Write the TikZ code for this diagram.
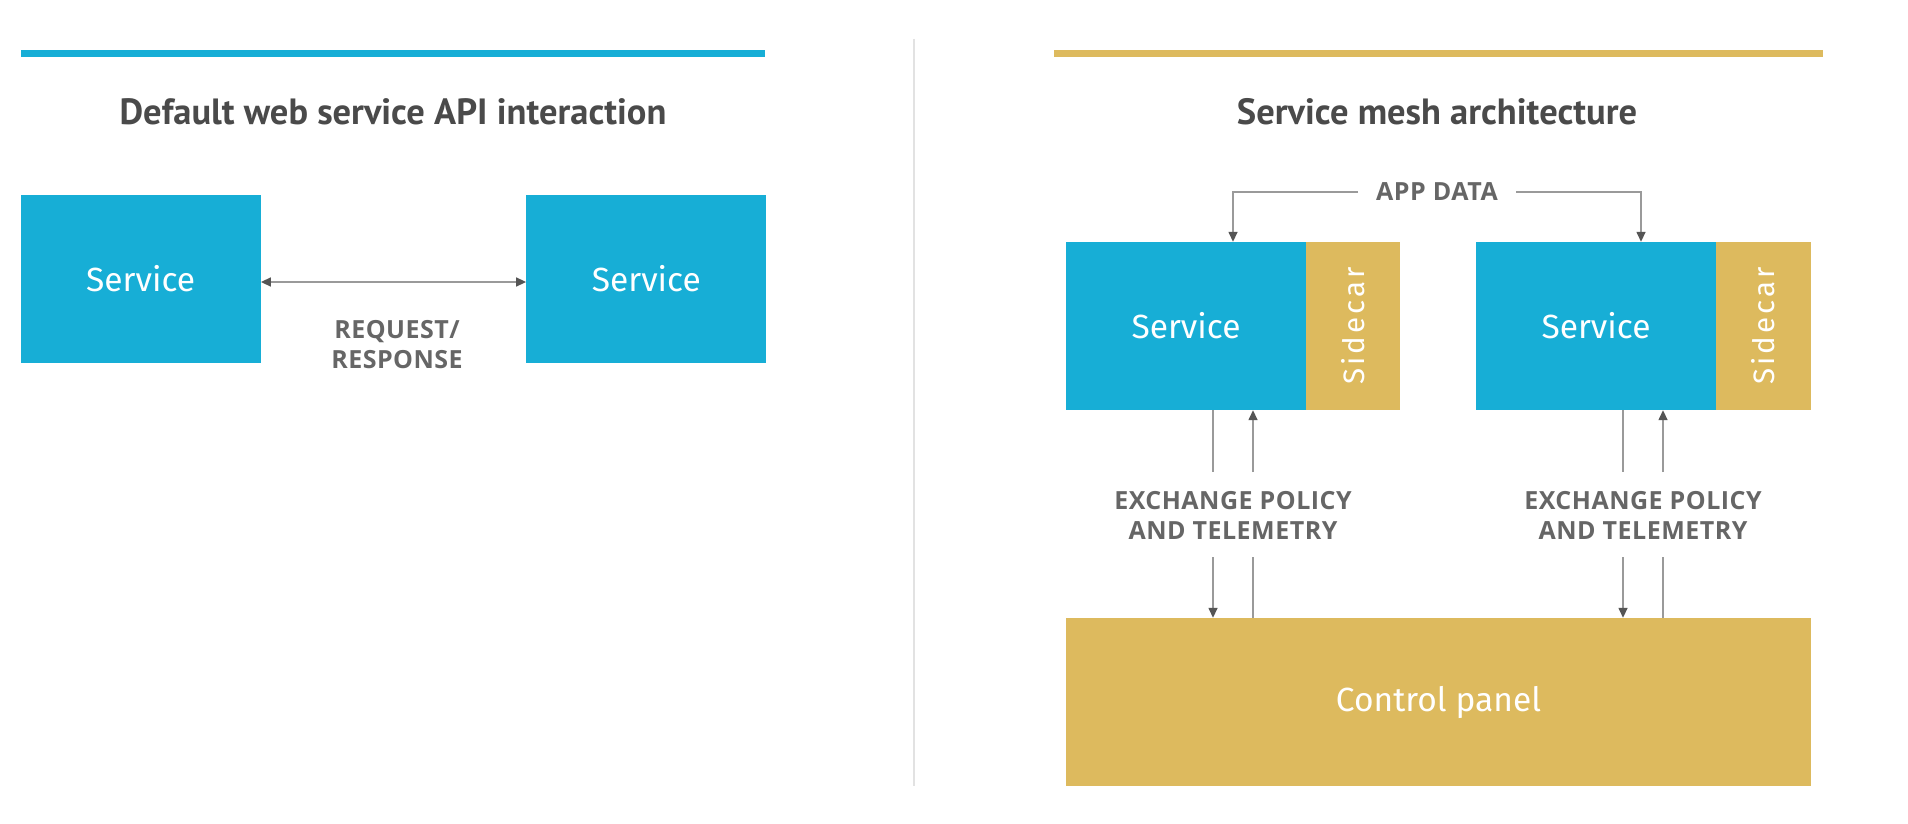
\documentclass[tikz,border=0pt]{standalone}
\usepackage{fontspec}
\setmainfont{Fira Sans}
\newfontfamily\titlefont{PT Sans}
\newfontfamily\lblfont[LetterSpace=2]{Open Sans}
\usetikzlibrary{arrows.meta}
\definecolor{cblue}{HTML}{17AED6}
\definecolor{cgold}{HTML}{DDBA5E}
\definecolor{ctitle}{HTML}{4A4A4A}
\definecolor{clabel}{HTML}{666666}
\definecolor{cline}{HTML}{9A9A9A}
\definecolor{ctip}{HTML}{555555}
\definecolor{cdiv}{HTML}{E2E2E2}
\tikzset{
  bluebox/.style={fill=cblue, draw=none, inner sep=0pt, minimum height=168pt, text=white, font=\fontsize{33.5}{35}\selectfont},
  goldbox/.style={fill=cgold, draw=none, inner sep=0pt, minimum height=168pt, text=white, font=\fontsize{33.5}{35}\selectfont},
  sidetext/.style={font=\fontsize{29.5}{31}\selectfont},
  titletext/.style={text=ctitle, font=\titlefont\bfseries\fontsize{36.5}{38}\selectfont},
  lbl/.style={text=clabel, font=\lblfont\bfseries\fontsize{25}{30.5}\selectfont, align=center, inner sep=2pt},
  conn/.style={draw=cline, line width=1.5pt},
  tip/.style={-{Triangle[length=10pt,width=9pt,fill=ctip,color=ctip]}},
  tips/.style={{Triangle[length=10pt,width=9pt,fill=ctip,color=ctip]}-{Triangle[length=10pt,width=9pt,fill=ctip,color=ctip]}},
}
\begin{document}
\begin{tikzpicture}[x=1pt,y=-1pt]
\useasboundingbox (0,0) rectangle (1908,824);
\fill[white] (0,0) rectangle (1908,824);
% top bars
\fill[cblue] (20.7,50) rectangle (765,57);
\fill[cgold] (1054,50) rectangle (1823,57);
% divider
\draw[cdiv, line width=2.5pt] (914,39) -- (914,786);
% titles
\node[titletext] (t1) at (393,112) {Default web service API interaction};
\node[titletext] (t2) at (1437,112) {Service mesh architecture};
% left diagram
\node[bluebox, minimum width=240pt] (s1) at (140.7,279) {Service};
\node[bluebox, minimum width=240pt] (s2) at (646.3,279) {Service};
\draw[conn, tips] (s1.east |- 0,282) -- (s2.west |- 0,282);
\node[lbl] (rr) at (397,344.5) {REQUEST/\\RESPONSE};
% right diagram
\node[bluebox, minimum width=240pt] (m1) at (1186,326) {Service};
\node[goldbox, sidetext, minimum width=94pt] (c1) at (1353,326) {\rotatebox{90}{\addfontfeatures{LetterSpace=10}Sidecar}};
\node[bluebox, minimum width=240pt] (m2) at (1596,326) {Service};
\node[goldbox, sidetext, minimum width=95pt] (c2) at (1763.5,326) {\rotatebox{90}{\addfontfeatures{LetterSpace=10}Sidecar}};
\node[goldbox, minimum width=745pt] (cp) at (1438.5,702) {Control panel};
% app data
\node[lbl, inner xsep=18pt] (ad) at (1437,192) {APP DATA};
\coordinate (ad1) at (1233,192);
\coordinate (ad2) at (1641,192);
\draw[conn, tip] (ad.west) -- (ad1) -- (m1.north -| ad1);
\draw[conn, tip] (ad.east) -- (ad2) -- (m2.north -| ad2);
% exchange labels
\node[lbl] (e1) at (1233,515.5) {EXCHANGE POLICY\\AND TELEMETRY};
\node[lbl] (e2) at (1643,515.5) {EXCHANGE POLICY\\AND TELEMETRY};
% vertical connectors left
\coordinate (u1a) at (1213,472);
\coordinate (u1b) at (1253,472);
\coordinate (l1a) at (1213,557);
\coordinate (l1b) at (1253,557);
\draw[conn] (m1.south -| u1a) -- (u1a);
\draw[conn, tip] (u1b) -- (m1.south -| u1b);
\draw[conn, tip] (l1a) -- (cp.north -| l1a);
\draw[conn] (cp.north -| l1b) -- (l1b);
% vertical connectors right
\coordinate (u2a) at (1623,472);
\coordinate (u2b) at (1663,472);
\coordinate (l2a) at (1623,557);
\coordinate (l2b) at (1663,557);
\draw[conn] (m2.south -| u2a) -- (u2a);
\draw[conn, tip] (u2b) -- (m2.south -| u2b);
\draw[conn, tip] (l2a) -- (cp.north -| l2a);
\draw[conn] (cp.north -| l2b) -- (l2b);
\end{tikzpicture}
\end{document}
